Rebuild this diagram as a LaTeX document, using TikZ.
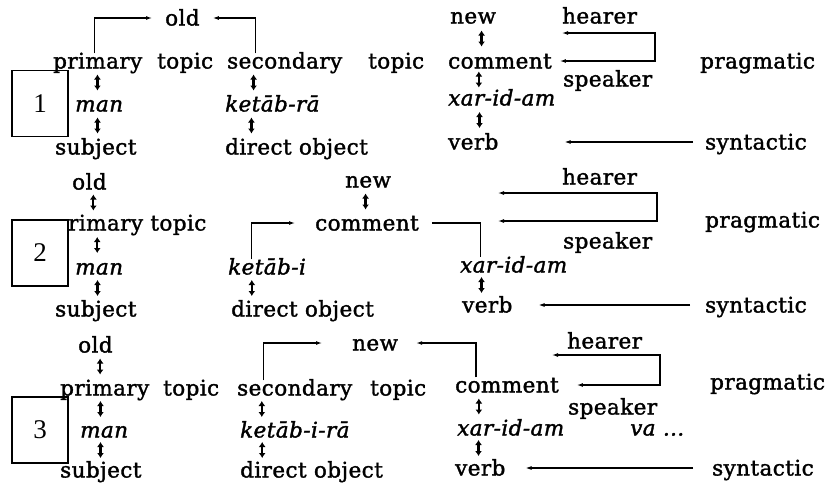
\documentclass[tikz,border=0pt]{standalone}
\usepackage{fontspec}
\setmainfont{DejaVu Serif}[FakeBold=1.6, LetterSpace=2]
\newfontfamily\numfont{Liberation Serif}
\usetikzlibrary{calc,arrows.meta}
\tikzset{
  wd/.style={inner sep=0pt, anchor=west, font=\fontsize{21.5}{24}\selectfont,
    text height=15pt, text depth=0pt},
  itw/.style={wd, font=\fontsize{21.5}{24}\selectfont\itshape},
  arr/.style={-{Latex[length=6pt,width=4pt]}, line width=1.1pt},
  hloop/.style={{Latex[length=6pt,width=4pt]}-{Latex[length=6pt,width=4pt]},
    line width=1.1pt},
  ud/.style={{Latex[length=5pt,width=7pt]}-{Latex[length=5pt,width=7pt]},
    line width=2.2pt},
  numbox/.style={draw, line width=1.2pt, minimum width=56pt, minimum height=66pt,
    inner sep=0pt, font=\numfont\fontsize{27}{30}\selectfont}
}
\newcommand{\udarrow}[3][0]{%
  \draw[ud] ($(#2)!0.5!(#3)+(#1,0)$) +(0,-8) -- +(0,8);}

\begin{document}
\begin{tikzpicture}[x=1pt, y=-1pt]
\useasboundingbox (0,0) rectangle (826,482);

% ====================================================================
%
%         Satz 1
%
% ====================================================================

  % Woerter
  \node[wd] (oldA) at (165,18) {old};
  \node[wd] (prA) at (53,61) {primary};
  \node[wd] (tpA) at (157,61) {topic};
  \node[wd] (secA) at (227,61) {secondary};
  \node[wd] (stA) at (368,61) {topic};
  \node[wd] (newA) at (450,16) {new};
  \node[wd] (comA) at (448,61) {comment};
  \node[wd] (hearA) at (562,16) {hearer};
  \node[wd] (speakA) at (563,79) {speaker};
  \node[wd] (pragA) at (700,61) {pragmatic};
  \node[itw] (manA) at (75,104) {man};
  \node[itw] (ketA) at (225,104) {ketāb-rā};
  \node[itw] (xarA) at (448,98) {xar-id-am};
  \node[wd] (subjA) at (55,147) {subject};
  \node[wd] (dobjA) at (225,147) {direct object};
  \node[wd] (verbA) at (448,142) {verb};
  \node[wd] (synA) at (705,142) {syntactic};
  \node[numbox] (boxA) at (40,103.5) {1};

  % Pfeile
  \draw[arr, shorten >=13pt] ([xshift=-3pt]prA.north) |- (oldA.west);
  \draw[arr, shorten >=13pt] ([xshift=-29pt]secA.north) |- (oldA.east);
  \coordinate (htA) at (562,33);
  \coordinate (hcA) at (655,33);
  \draw[hloop] (htA) -- (hcA) |- ([xshift=8pt]comA.east);
  \draw[arr] ([xshift=-12pt]synA.west) -- ([xshift=66pt]verbA.east);
  \udarrow[-1]{prA}{manA}
  \udarrow[0]{manA}{subjA}
  \udarrow[-25]{secA}{ketA}
  \udarrow[-33]{ketA}{dobjA}
  \udarrow[-5]{newA}{comA}
  \udarrow[-22]{comA}{xarA}
  \udarrow[-8]{xarA}{verbA}

% ====================================================================
%
%         Satz 2
%
% ====================================================================

  % Woerter
  \node[wd] (oldB) at (72,182) {old};
  \node[wd] (prB) at (68,223) {rimary topic};
  \node[wd] (newB) at (345,180) {new};
  \node[wd] (comB) at (315,223) {comment};
  \node[wd] (hearB) at (562,177) {hearer};
  \node[wd] (speakB) at (563,241) {speaker};
  \node[wd] (pragB) at (705,220) {pragmatic};
  \node[itw] (manB) at (75,267) {man};
  \node[itw] (ketB) at (228,267) {ketāb-i};
  \node[itw] (xarB) at (460,265) {xar-id-am};
  \node[wd] (subjB) at (55,309) {subject};
  \node[wd] (dobjB) at (231,309) {direct object};
  \node[wd] (verbB) at (462,305) {verb};
  \node[wd] (synB) at (705,305) {syntactic};
  \node[numbox] (boxB) at (40,253) {2};

  % Pfeile
  \draw[arr, shorten >=20pt] ([xshift=-16pt]ketB.north) |- (comB.west);
  \draw[line width=1.1pt] ([xshift=13pt]comB.east) -| ([xshift=-33pt]xarB.north);
  \coordinate (htB) at (498,193);
  \coordinate (hcB) at (657,193);
  \coordinate (hbB) at (498,221);
  \draw[hloop] (htB) -- (hcB) |- (hbB);
  \draw[arr] ([xshift=-15pt]synB.west) -- ([xshift=26pt]verbB.east);
  \udarrow[-20]{oldB}{prB}
  \udarrow[-21]{prB}{manB}
  \udarrow[0]{manB}{subjB}
  \udarrow[-33]{ketB}{dobjB}
  \udarrow[-2]{newB}{comB}
  \udarrow[-19]{xarB}{verbB}

% ====================================================================
%
%         Satz 3
%
% ====================================================================

  % Woerter
  \node[wd] (oldC) at (78,345) {old};
  \node[wd] (prC) at (60,388) {primary};
  \node[wd] (tpC) at (163,388) {topic};
  \node[wd] (secC) at (237,388) {secondary};
  \node[wd] (stC) at (370,388) {topic};
  \node[wd] (newC) at (352,343) {new};
  \node[wd] (comC) at (455,385) {comment};
  \node[wd] (hearC) at (567,341) {hearer};
  \node[wd] (speakC) at (568,407) {speaker};
  \node[wd] (pragC) at (710,382) {pragmatic};
  \node[itw] (manC) at (80,430) {man};
  \node[itw] (ketC) at (240,430) {ketāb-i-rā};
  \node[itw] (xarC) at (457,428) {xar-id-am};
  \node[itw] (vaC) at (630,428) {va \dots};
  \node[wd] (subjC) at (60,470) {subject};
  \node[wd] (dobjC) at (240,470) {direct object};
  \node[wd] (verbC) at (455,468) {verb};
  \node[wd] (synC) at (712,468) {syntactic};
  \node[numbox] (boxC) at (40,430) {3};

  % Pfeile
  \draw[arr, shorten >=30pt] ([xshift=-31pt]secC.north) |- (newC.west);
  \draw[arr, shorten >=18pt] ([xshift=-31pt]comC.north) |- (newC.east);
  \coordinate (htC) at (552,355);
  \coordinate (hcC) at (660,355);
  \draw[hloop] (htC) -- (hcC) |- ([xshift=18pt]comC.east);
  \draw[arr] ([xshift=-19pt]synC.west) -- ([xshift=20pt]verbC.east);
  \udarrow[0]{oldC}{prC}
  \udarrow[-4]{prC}{manC}
  \udarrow[-2]{manC}{subjC}
  \udarrow[-33]{secC}{ketC}
  \udarrow[-41]{ketC}{dobjC}
  \udarrow[-30]{comC}{xarC}
  \udarrow[-17]{xarC}{verbC}

\end{tikzpicture}
\end{document}
